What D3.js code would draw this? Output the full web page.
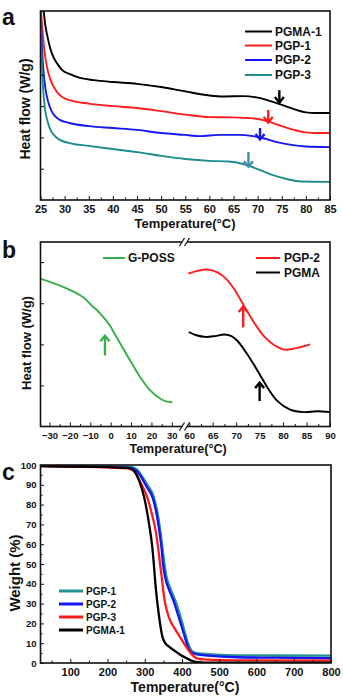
<!DOCTYPE html>
<html><head><meta charset="utf-8">
<script src="https://cdn.jsdelivr.net/npm/d3@7"></script>
<style>body{margin:0;background:#fff}svg{display:block}text{font-family:"Liberation Sans",Arial,sans-serif;font-weight:bold;fill:#111}</style>
</head><body><svg id="chart" width="343" height="697"></svg>
<script>
// ---------- Panel a: DSC curves (Temperature °C, heat flow a.u.) ----------
const aPGMA1 = [[25.65,6.04],[26.0,5.59],[26.5,5.18],[27.0,4.86],[27.5,4.63],[28.5,4.35],[29.5,4.15],[31,4.03],[33,3.91],[36,3.83],[40,3.77],[45,3.71],[50,3.61],[55,3.47],[60,3.34],[63,3.31],[67,3.32],[70,3.27],[72,3.19],[75,3.04],[78,2.88],[80,2.80],[82,2.78],[85,2.78]];
const aPGP1 = [[25.1,6.04],[25.4,5.43],[25.8,4.79],[26.3,4.28],[27,3.87],[28,3.55],[29,3.35],[31,3.19],[35,3.08],[40,3.00],[45,2.94],[50,2.84],[55,2.73],[60,2.65],[65,2.64],[68,2.62],[70,2.59],[72,2.52],[75,2.36],[78,2.22],[80,2.16],[82,2.14],[85,2.14]];
const aPGP2 = [[25.05,6.04],[25.3,4.95],[25.6,4.15],[26,3.58],[26.6,3.13],[27.3,2.84],[28,2.68],[29,2.56],[31,2.46],[35,2.36],[40,2.30],[45,2.24],[50,2.14],[55,2.08],[58,2.04],[62,2.08],[66,2.08],[69,2.04],[71,1.98],[74,1.85],[77,1.76],[80,1.71],[85,1.69]];
const aPGP3 = [[25.0,6.04],[25.2,4.79],[25.5,3.67],[25.9,2.94],[26.5,2.49],[27.2,2.20],[28,2.04],[29,1.92],[31,1.82],[35,1.73],[40,1.63],[45,1.53],[50,1.41],[55,1.31],[60,1.25],[64,1.23],[67,1.15],[70,0.99],[73,0.80],[76,0.67],[79,0.59],[85,0.58]];
const aNames = ["PGMA-1","PGP-1","PGP-2","PGP-3"];
const aColors = ["#000000","#ff1c1c","#1717f0","#1f8c8c"];
const aArrowT = [74.5, 72.2, 70.5, 68.1];
const aArrowFrom = [3.51, 2.88, 2.30, 1.53];
const aArrowTo = [3.10, 2.46, 1.92, 1.05];
const aArrowColors = ["#000000","#ff1c1c","#1717f0","#3b8fa6"];
const aXTicks = [25,30,35,40,45,50,55,60,65,70,75,80,85];
const aXMinor = [27.5,32.5,37.5,42.5,47.5,52.5,57.5,62.5,67.5,72.5,77.5,82.5];
const aYTicks = [1,2,3,4];

// ---------- Panel b: DSC with broken axis ----------
const bGPOSS = [[-34.4,3.60],[-22.5,3.38],[-13.6,3.15],[-9.8,2.97],[-5.3,2.76],[-0.3,2.45],[1.2,2.32],[4.7,2.02],[9.5,1.61],[14.5,1.20],[19.4,0.88],[24.2,0.68],[27.2,0.61],[30.2,0.59]];
const bPGP2 = [[59.8,3.72],[61.5,3.78],[63.8,3.82],[66,3.75],[67.8,3.6],[69.5,3.36],[71.6,2.95],[73.7,2.55],[75.9,2.20],[78,1.99],[80.3,1.87],[82.5,1.90],[85.8,2.0]];
const bPGMA = [[59.9,2.30],[61.5,2.22],[63.5,2.18],[65.5,2.20],[67.5,2.24],[69,2.20],[70.3,2.08],[72.3,1.77],[74.5,1.37],[76.6,0.96],[78.7,0.63],[81.5,0.41],[84.4,0.35],[87.2,0.37],[90,0.35]];
const bXTicksLeft = [-30,-20,-10,0,10,20,30];
const bXMinorLeft = [-25,-15,-5,5,15,25];
const bXTicksRight = [60,65,70,75,80,85,90];
const bXMinorRight = [62.5,67.5,72.5,77.5,82.5,87.5];
const bYTicks = [1,2,3,4];

// ---------- Panel c: TGA ----------
const cPGP1 = [[20,99.6],[100,99.4],[200,99.3],[262,99],[277,98],[292,94.5],[307,90],[323,84.5],[334,76],[341,67.7],[347,59],[352,51],[358,44],[369,37.5],[381,32],[392,26],[401,20],[409,14.5],[418,9],[427,6],[445,4.8],[480,4.4],[550,3.9],[650,3.8],[800,3.7]];
const cPGP2 = [[20,99.6],[100,99.3],[200,99.1],[260,98.6],[275,97.5],[290,94],[305,89],[321,83.5],[332,75],[339,66.7],[345,58],[349,50],[355,43],[366,36.5],[378,31],[388,25],[398,19],[406,14],[415,8.5],[424,5.5],[440,4.3],[470,3.7],[550,2.9],[650,2.7],[800,2.4]];
const cPGP3 = [[20,99.4],[100,99.1],[200,98.8],[255,98.3],[270,97],[285,92.5],[297,88],[307,83.5],[318,76],[330,66],[336,58],[341,50],[347,41],[352,33],[360,26],[368,21.5],[380,17.5],[395,13],[410,8.5],[425,4.5],[440,2.3],[460,1.8],[500,1.5],[600,1.3],[800,1.2]];
const cPGMA1 = [[20,99.4],[100,99.2],[200,98.9],[255,98.5],[270,97.3],[285,92],[298,84],[310,72],[321,57],[330,37],[338,24],[347,13.5],[355,10],[365,8.3],[380,6.2],[395,4.2],[410,2.6],[425,1.2],[440,0.4],[460,0.2],[800,0.2]];
const cNames = ["PGP-1","PGP-2","PGP-3","PGMA-1"];
const cColors = ["#249090","#1414f5","#ff1a1a","#000000"];
const cXTicks = [100,200,300,400,500,600,700,800];
const cXMinor = [50,150,250,350,450,550,650,750];
const cYTicks = [0,10,20,30,40,50,60,70,80,90,100];
const cYMinor = [5,15,25,35,45,55,65,75,85,95];

// ---------- drawing ----------
const svg = d3.select("#chart");
svg.append("rect").attr("width",343).attr("height",697).attr("fill","#fff");

function styleAxis(g){
  g.select(".domain").remove();
  g.selectAll(".tick line").attr("stroke","#111").attr("stroke-width",1);
  g.selectAll(".tick text").attr("fill","#111").style("font-weight","bold").style("font-family",'"Liberation Sans",Arial,sans-serif');
}
function bottomAxis(scale, major, minor, y, fs, pad, fmt){
  const g = svg.append("g").attr("transform",`translate(0,${y})`)
    .call(d3.axisBottom(scale).tickValues(major).tickSize(-4).tickPadding(pad).tickFormat(fmt||d3.format("d")));
  styleAxis(g); g.selectAll(".tick text").style("font-size",fs+"px");
  if(minor){
    const m = svg.append("g").attr("transform",`translate(0,${y})`)
      .call(d3.axisBottom(scale).tickValues(minor).tickSize(-2.5).tickFormat(""));
    styleAxis(m);
  }
}
function leftAxis(scale, major, minor, x, fs, pad, labels){
  const g = svg.append("g").attr("transform",`translate(${x},0)`)
    .call(d3.axisLeft(scale).tickValues(major).tickSize(-3.5).tickPadding(pad).tickFormat(labels?d3.format("d"):""));
  styleAxis(g); g.selectAll(".tick text").style("font-size",fs+"px");
  if(minor){
    const m = svg.append("g").attr("transform",`translate(${x},0)`)
      .call(d3.axisLeft(scale).tickValues(minor).tickSize(-2).tickFormat(""));
    styleAxis(m);
  }
}
function arrow(g, x, yTail, yTip, color){
  const s = Math.sign(yTail - yTip);
  g.append("line").attr("x1",x).attr("x2",x).attr("y1",yTail).attr("y2",yTip)
    .attr("stroke",color).attr("stroke-width",2.4);
  g.append("path").attr("d",`M${x-4.5},${yTip+s*6}L${x},${yTip+s*0.5}L${x+4.5},${yTip+s*6}`)
    .attr("fill","none").attr("stroke",color).attr("stroke-width",2.4).attr("stroke-linejoin","miter");
}
function label(txt,x,y,fs,extra){
  const t = svg.append("text").attr("x",x).attr("y",y).style("font-size",fs+"px").text(txt);
  if(extra) extra(t);
  return t;
}

// ===== Panel a =====
{
  const L=40.5, R=330, T=11, B=200;
  const x = d3.scaleLinear().domain([25,85]).range([L,R]);
  const y = d3.scaleLinear().domain([0,6.04]).range([B,T]);
  svg.append("clipPath").attr("id","clipA").append("rect").attr("x",L).attr("y",T).attr("width",R-L).attr("height",B-T);
  const line = d3.line().x(d=>x(d[0])).y(d=>y(d[1])).curve(d3.curveMonotoneX);
  const series = [aPGMA1,aPGP1,aPGP2,aPGP3];
  const cg = svg.append("g").attr("clip-path","url(#clipA)");
  series.forEach((s,i)=>cg.append("path").attr("d",line(s)).attr("fill","none").attr("stroke",aColors[i]).attr("stroke-width",1.9));
  const ag = svg.append("g");
  aArrowT.forEach((t,i)=>arrow(ag, x(t), y(aArrowFrom[i]), y(aArrowTo[i]), aArrowColors[i]));
  bottomAxis(x, aXTicks, aXMinor, B, 11, 5);
  leftAxis(y, aYTicks, null, L, 10, 3, false);
  svg.append("rect").attr("x",L).attr("y",T).attr("width",R-L).attr("height",B-T).attr("fill","none").attr("stroke","#111").attr("stroke-width",1.6);
  const ly = [31.5,45.5,60,75];
  aNames.forEach((n,i)=>{
    svg.append("line").attr("x1",245).attr("x2",272).attr("y1",ly[i]).attr("y2",ly[i]).attr("stroke",aColors[i]).attr("stroke-width",2);
    label(n,275,ly[i],12,t=>t.attr("dominant-baseline","central"));
  });
  label("a",2,25,23);
  label("Temperature(°C)",185,227.5,13,t=>t.attr("text-anchor","middle"));
  label("Heat flow (W/g)",0,0,14,t=>t.attr("text-anchor","middle").attr("transform","translate(30,109) rotate(-90)"));
}

// ===== Panel b =====
{
  const L=40.5, R=330, T=242, B=426.5, BRK=184.5;
  const xl = d3.scaleLinear().domain([-34.4,36.2]).range([L,BRK]);
  const xr = d3.scaleLinear().domain([59.2,90]).range([BRK+1,R]);
  const y = d3.scaleLinear().domain([0,4.49]).range([B,T]);
  const lineL = d3.line().x(d=>xl(d[0])).y(d=>y(d[1])).curve(d3.curveCatmullRom.alpha(0.5));
  const lineR = d3.line().x(d=>xr(d[0])).y(d=>y(d[1])).curve(d3.curveCatmullRom.alpha(0.5));
  svg.append("clipPath").attr("id","clipB").append("rect").attr("x",L).attr("y",T).attr("width",R-L).attr("height",B-T);
  const cg = svg.append("g").attr("clip-path","url(#clipB)");
  cg.append("path").attr("d",lineL(bGPOSS)).attr("fill","none").attr("stroke","#33b04a").attr("stroke-width",1.9);
  cg.append("path").attr("d",lineR(bPGP2)).attr("fill","none").attr("stroke","#ff1c1c").attr("stroke-width",1.9);
  cg.append("path").attr("d",lineR(bPGMA)).attr("fill","none").attr("stroke","#000").attr("stroke-width",1.9);
  const ag = svg.append("g");
  arrow(ag, xl(-2.8), y(1.73), y(2.22), "#33b04a");
  arrow(ag, xr(71.5), y(2.41), y(2.93), "#ff1c1c");
  arrow(ag, xr(75), y(0.62), y(1.08), "#000");
  bottomAxis(xl, bXTicksLeft, bXMinorLeft, B, 9.5, 6);
  bottomAxis(xr, bXTicksRight, bXMinorRight, B, 9.5, 6);
  leftAxis(y, bYTicks, null, L, 10, 3, false);
  svg.append("rect").attr("x",L).attr("y",T).attr("width",R-L).attr("height",B-T).attr("fill","none").attr("stroke","#111").attr("stroke-width",1.6);
  [T,B].forEach(yy=>{
    svg.append("rect").attr("x",BRK-2.5).attr("y",yy-2).attr("width",5).attr("height",4).attr("fill","#fff");
    [BRK-2.5,BRK+2.5].forEach(xx=>svg.append("line").attr("x1",xx-2.5).attr("y1",yy+4).attr("x2",xx+2.5).attr("y2",yy-4).attr("stroke","#111").attr("stroke-width",1.3));
  });
  svg.append("line").attr("x1",103).attr("x2",125).attr("y1",258).attr("y2",258).attr("stroke","#33b04a").attr("stroke-width",2);
  label("G-POSS",128,258,12,t=>t.attr("dominant-baseline","central"));
  svg.append("line").attr("x1",256).attr("x2",280).attr("y1",258).attr("y2",258).attr("stroke","#ff1c1c").attr("stroke-width",2);
  label("PGP-2",284,258,12,t=>t.attr("dominant-baseline","central"));
  svg.append("line").attr("x1",256).attr("x2",280).attr("y1",272.5).attr("y2",272.5).attr("stroke","#000").attr("stroke-width",2);
  label("PGMA",284,272.5,12,t=>t.attr("dominant-baseline","central"));
  label("b",2,258,23);
  label("Temperature(°C)",178,452.5,12.5,t=>t.attr("text-anchor","middle"));
  label("Heat flow (W/g)",0,0,13,t=>t.attr("text-anchor","middle").attr("transform","translate(31,343) rotate(-90)"));
}

// ===== Panel c =====
{
  const L=40.5, R=331, T=465, B=663;
  const x = d3.scaleLinear().domain([20,800]).range([L,R]);
  const y = d3.scaleLinear().domain([0,100]).range([B,T]);
  const line = d3.line().x(d=>x(d[0])).y(d=>y(d[1])).curve(d3.curveMonotoneX);
  svg.append("clipPath").attr("id","clipC").append("rect").attr("x",L).attr("y",T).attr("width",R-L).attr("height",B-T);
  const cg = svg.append("g").attr("clip-path","url(#clipC)");
  [cPGP1,cPGP2,cPGP3,cPGMA1].forEach((s,i)=>cg.append("path").attr("d",line(s)).attr("fill","none").attr("stroke",cColors[i]).attr("stroke-width",2.3));
  bottomAxis(x, cXTicks, cXMinor, B, 11, 5);
  leftAxis(y, cYTicks, cYMinor, L, 9.5, 4, true);
  svg.append("rect").attr("x",L).attr("y",T).attr("width",R-L).attr("height",B-T).attr("fill","none").attr("stroke","#111").attr("stroke-width",1.6);
  const ly = [591,604,617,630];
  cNames.forEach((n,i)=>{
    svg.append("line").attr("x1",59).attr("x2",83).attr("y1",ly[i]).attr("y2",ly[i]).attr("stroke",cColors[i]).attr("stroke-width",3);
    label(n,86,ly[i],10,t=>t.attr("dominant-baseline","central"));
  });
  label("c",2,480,23);
  label("Temperature(°C)",185,692,14,t=>t.attr("text-anchor","middle"));
  label("Weight (%)",0,0,15,t=>t.attr("text-anchor","middle").attr("transform","translate(20,573) rotate(-90)"));
}
</script></body></html>
